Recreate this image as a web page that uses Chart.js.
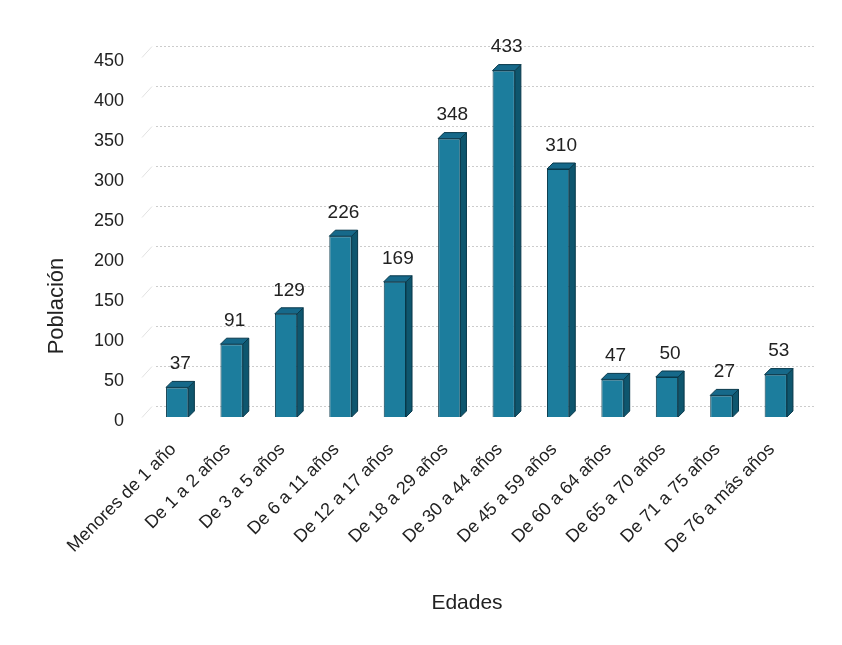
<!DOCTYPE html>
<html>
<head>
<meta charset="utf-8">
<script src="https://cdn.jsdelivr.net/npm/chart.js@4.4.1/dist/chart.umd.min.js"></script>
<style>
  html, body { margin: 0; padding: 0; background: #fff; }
  #chart { display: block; }
</style>
</head>
<body>
<canvas id="chart" width="842" height="645"></canvas>
<script>
// age groups and population counts
var categories = [
  'Menores de 1 año', 'De 1 a 2 años', 'De 3 a 5 años', 'De 6 a 11 años',
  'De 12 a 17 años', 'De 18 a 29 años', 'De 30 a 44 años', 'De 45 a 59 años',
  'De 60 a 64 años', 'De 65 a 70 años', 'De 71 a 75 años', 'De 76 a más años'
];
var poblacion = [37, 91, 129, 226, 169, 348, 433, 310, 47, 50, 27, 53];
var yTicks = [0, 50, 100, 150, 200, 250, 300, 350, 400, 450];
var xTitle = 'Edades';
var yTitle = 'Población';

var FONT = "'Liberation Sans', Arial, sans-serif";
var COLORS = {
  front: '#1c7d9d',
  side: '#0e566e',
  top: '#16698a',
  edge: '#08384a',
  grid: '#cccccc',
  text: '#222222'
};
var DEPTH = 6;     // bar depth in px
var WALL_X = 10;   // back wall offset
var WALL_Y = 11;

// dotted grid on the back wall, with the short floor/wall diagonal at left
var backWall = {
  id: 'backWall',
  beforeDatasetsDraw: function (chart) {
    var ctx = chart.ctx, y = chart.scales.y, area = chart.chartArea;
    ctx.save();
    ctx.lineWidth = 1;
    yTicks.forEach(function (v) {
      var py = Math.round(y.getPixelForValue(v)) + 0.5;
      ctx.strokeStyle = '#e2e2e2';
      ctx.setLineDash([]);
      ctx.beginPath();
      ctx.moveTo(area.left - 8, py);
      ctx.lineTo(area.left + 2, py - WALL_Y);
      ctx.stroke();
      ctx.strokeStyle = COLORS.grid;
      ctx.setLineDash([2, 2]);
      ctx.beginPath();
      ctx.moveTo(area.left + 6, py - WALL_Y);
      ctx.lineTo(area.right + WALL_X + 2, py - WALL_Y);
      ctx.stroke();
    });
    ctx.restore();
  }
};

// side and top faces plus value labels
var bars3d = {
  id: 'bars3d',
  afterDatasetsDraw: function (chart) {
    var ctx = chart.ctx;
    var meta = chart.getDatasetMeta(0);
    ctx.save();
    ctx.lineWidth = 1;
    ctx.strokeStyle = COLORS.edge;
    meta.data.forEach(function (bar, i) {
      var l = bar.x - bar.width / 2, r = bar.x + bar.width / 2;
      var t = bar.y, b = bar.base;
      ctx.fillStyle = COLORS.side;
      ctx.beginPath();
      ctx.moveTo(r, t);
      ctx.lineTo(r + DEPTH, t - DEPTH);
      ctx.lineTo(r + DEPTH, b - DEPTH);
      ctx.lineTo(r, b);
      ctx.closePath();
      ctx.fill();
      ctx.stroke();
      ctx.fillStyle = COLORS.top;
      ctx.beginPath();
      ctx.moveTo(l, t);
      ctx.lineTo(l + DEPTH, t - DEPTH);
      ctx.lineTo(r + DEPTH, t - DEPTH);
      ctx.lineTo(r, t);
      ctx.closePath();
      ctx.fill();
      ctx.stroke();
      ctx.fillStyle = COLORS.text;
      ctx.font = '19px ' + FONT;
      ctx.textAlign = 'center';
      ctx.textBaseline = 'bottom';
      ctx.fillText(String(poblacion[i]), bar.x + DEPTH / 2, t - DEPTH - 8);
    });
    ctx.restore();
  }
};

// axis titles sit off-centre in the reference, so they are placed by hand
var axisTitles = {
  id: 'axisTitles',
  afterDraw: function (chart) {
    var ctx = chart.ctx;
    ctx.save();
    ctx.fillStyle = COLORS.text;
    ctx.font = '21px ' + FONT;
    ctx.textAlign = 'center';
    ctx.textBaseline = 'middle';
    ctx.fillText(xTitle, 467, 603);
    ctx.translate(57, 306);
    ctx.rotate(-Math.PI / 2);
    ctx.font = '22px ' + FONT;
    ctx.fillText(yTitle, 0, 0);
    ctx.restore();
  }
};

new Chart(document.getElementById('chart'), {
  type: 'bar',
  data: {
    labels: categories,
    datasets: [{
      data: poblacion,
      backgroundColor: COLORS.front,
      borderColor: COLORS.edge,
      borderWidth: 1,
      categoryPercentage: 1,
      barPercentage: 0.41
    }]
  },
  options: {
    responsive: false,
    animation: false,
    layout: { padding: { left: 36, right: 39, top: 57, bottom: 22 } },
    plugins: { legend: { display: false }, tooltip: { enabled: false } },
    scales: {
      x: {
        grid: { display: false },
        border: { display: false },
        ticks: {
          color: COLORS.text,
          font: { family: FONT, size: 18 },
          minRotation: 45,
          maxRotation: 45,
          labelOffset: -4,
          padding: 14
        },
        afterFit: function (scale) { scale.height = 645 - 417 - 22; }
      },
      y: {
        min: 0,
        max: 450,
        grid: { display: false },
        border: { display: false },
        afterBuildTicks: function (scale) {
          scale.ticks = yTicks.map(function (v) { return { value: v }; });
        },
        ticks: {
          color: COLORS.text,
          font: { family: FONT, size: 18 },
          padding: 18,
          labelOffset: 4
        },
        afterFit: function (scale) { scale.width = 150 - 36; }
      }
    }
  },
  plugins: [backWall, bars3d, axisTitles]
});
</script>
</body>
</html>
